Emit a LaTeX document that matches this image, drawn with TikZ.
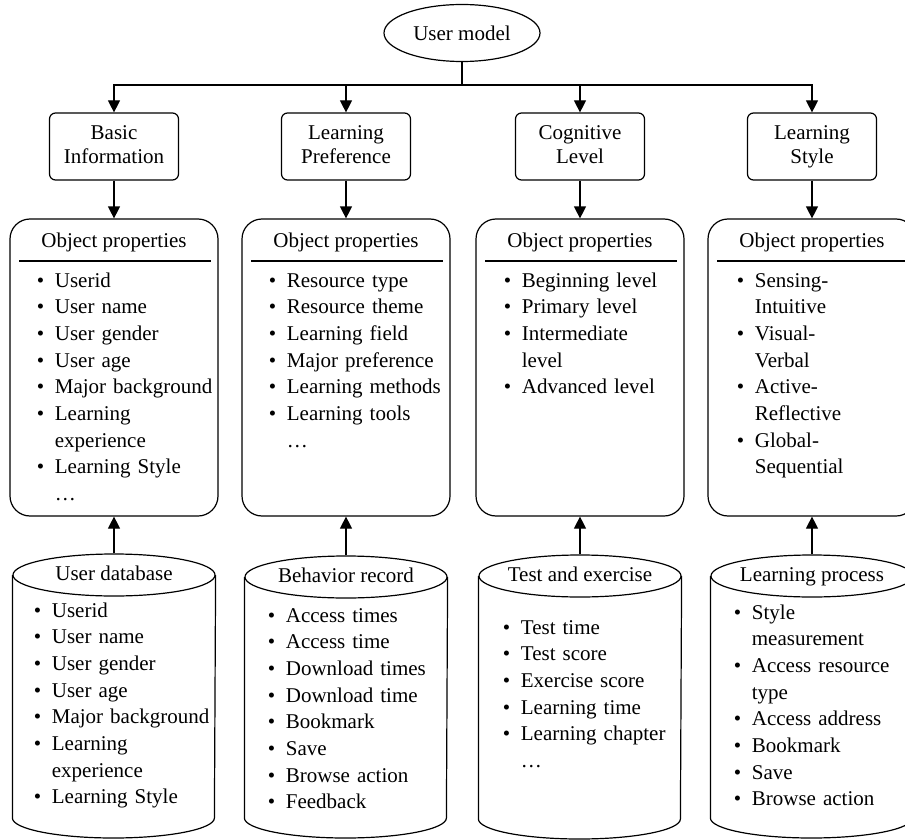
\documentclass[tikz,border=0pt]{standalone}
\usepackage{fontspec}
\setmainfont{Liberation Serif}
\usetikzlibrary{arrows.meta,shapes.geometric}

\tikzset{every picture/.style={line width=1.2pt}}
\tikzset{
  txt/.style={font=\fontsize{21}{26.7}\selectfont, inner sep=0pt},
  topbox/.style={draw, rounded corners=6pt, minimum width=129pt, minimum height=67pt,
    align=center, inner sep=0pt, font=\fontsize{21}{24.5}\selectfont},
  objbox/.style={draw, rounded corners=20pt, minimum width=208pt, minimum height=297pt, inner sep=0pt},
  dbtop/.style={draw, ellipse, minimum width=202pt, minimum height=42pt, inner ysep=0pt,
    inner xsep=-10pt, font=\fontsize{21}{26.7}\selectfont},
  lst/.style={txt, anchor=base west, text width=200pt, align=left},
  arr/.style={-{Triangle[length=12pt,width=12pt]}},
}

% bullet items (first one opens the list) and dots line
\newcommand{\bfirst}[1]{\hangindent=18pt\hangafter=1\makebox[18pt][l]{\textbullet}#1}
\newcommand{\bitem}[1]{\par\noindent\bfirst{#1}}
\newcommand{\bdots}{\par\noindent\hspace*{18pt}\dots}

\begin{document}
\begin{tikzpicture}[x=1pt,y=1pt,yscale=-1,xscale=1]
\useasboundingbox (0,0) rectangle (905,840);

%Shape: Ellipse
\node[draw, ellipse, minimum width=156pt, minimum height=57pt, txt] (um) at (462,33) {User model};
\coordinate (bar) at (462,85);

%Shape: Rounded Rect
\node[topbox] (basic) at (114,146.5) {Basic\strut\\Information\strut};
\node[topbox] (pref) at (346,146.5) {Learning\strut\\Preference\strut};
\node[topbox] (cog) at (580,146.5) {Cognitive\strut\\Level\strut};
\node[topbox] (style) at (812,146.5) {Learning\strut\\Style\strut};

%Straight Lines
\draw (um.south) -- (bar);
\draw[arr] (bar) -| (basic.north);
\draw[arr] (bar) -| (pref.north);
\draw[arr] (bar) -| (cog.north);
\draw[arr] (bar) -| (style.north);

%Shape: Rounded Rect
\node[objbox] (op1) at (114,367.5) {};
\node[objbox] (op2) at (346,367.5) {};
\node[objbox] (op3) at (580,367.5) {};
\node[objbox] (op4) at (812,367.5) {};

\draw[arr] (basic.south) -- (op1.north);
\draw[arr] (pref.south) -- (op2.north);
\draw[arr] (cog.south) -- (op3.north);
\draw[arr] (style.south) -- (op4.north);

% Text Node
\node[txt] (t1) at (114,242) {Object properties};
\node[txt] (t2) at (346,242) {Object properties};
\node[txt] (t3) at (580,242) {Object properties};
\node[txt] (t4) at (812,242) {Object properties};

%Straight Lines
\draw (19,261) -- (211,261);
\draw (251,261) -- (443,261);
\draw (485,261) -- (677,261);
\draw (717,261) -- (909,261);

% Text Node
\node[lst] (l1) at (36.3,287) {\bfirst{Userid}\bitem{User name}\bitem{User gender}\bitem{User age}%
  \bitem{Major background}\bitem{Learning\newline experience}\bitem{Learning Style}\bdots\par};
% Text Node
\node[lst] (l2) at (268.3,287) {\bfirst{Resource type}\bitem{Resource theme}\bitem{Learning field}%
  \bitem{Major preference}\bitem{Learning methods}\bitem{Learning tools}\bdots\par};
% Text Node
\node[lst] (l3) at (503.3,287) {\bfirst{Beginning level}\bitem{Primary level}%
  \bitem{Intermediate\newline level}\bitem{Advanced level}\par};
% Text Node
\node[lst] (l4) at (736.3,287) {\bfirst{Sensing-\newline Intuitive}\bitem{Visual-\newline Verbal}%
  \bitem{Active-\newline Reflective}\bitem{Global-\newline Sequential}\par};

%Shape: Can
\node[dbtop] (db1) at (114,575) {User database\strut};
\node[dbtop] (db2) at (346,577) {Behavior record\strut};
\node[dbtop] (db3) at (580,576) {Test and exercise\strut};
\node[dbtop] (db4) at (812,576) {Learning process\strut};
\draw (db1.west) -- ++(0,243) arc[start angle=180, end angle=0, x radius=101, y radius=20] -- (db1.east);
\draw (db2.west) -- ++(0,241) arc[start angle=180, end angle=0, x radius=101, y radius=20] -- (db2.east);
\draw (db3.west) -- ++(0,243) arc[start angle=180, end angle=0, x radius=101, y radius=20] -- (db3.east);
\draw (db4.west) -- ++(0,242) arc[start angle=180, end angle=0, x radius=101, y radius=20] -- (db4.east);

\draw[arr] (db1.north) -- (op1.south);
\draw[arr] (db2.north) -- (op2.south);
\draw[arr] (db3.north) -- (op3.south);
\draw[arr] (db4.north) -- (op4.south);

% Text Node
\node[lst] (d1) at (33.3,617) {\bfirst{Userid}\bitem{User name}\bitem{User gender}\bitem{User age}%
  \bitem{Major background}\bitem{Learning\newline experience}\bitem{Learning Style}\par};
% Text Node
\node[lst] (d2) at (267.3,622) {\bfirst{Access times}\bitem{Access time}\bitem{Download times}%
  \bitem{Download time}\bitem{Bookmark}\bitem{Save}\bitem{Browse action}\bitem{Feedback}\par};
% Text Node
\node[lst] (d3) at (502.3,634) {\bfirst{Test time}\bitem{Test score}\bitem{Exercise score}%
  \bitem{Learning time}\bitem{Learning chapter}\bdots\par};
% Text Node
\node[lst] (d4) at (733.3,619) {\bfirst{Style\newline measurement}\bitem{Access resource\newline type}%
  \bitem{Access address}\bitem{Bookmark}\bitem{Save}\bitem{Browse action}\par};

\end{tikzpicture}
\end{document}
